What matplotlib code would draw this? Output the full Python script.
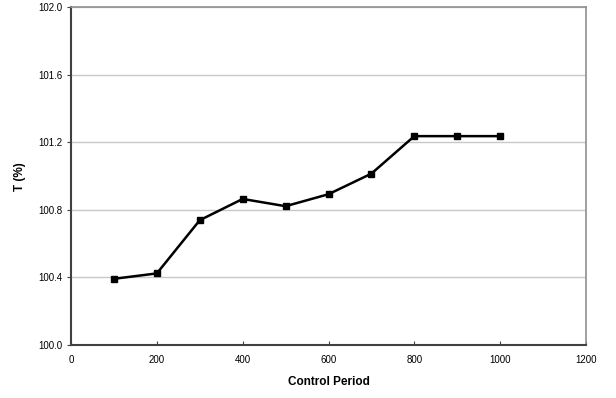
import matplotlib
matplotlib.use("Agg")
import matplotlib.pyplot as plt

x_vals = [100, 200, 300, 400, 500, 600, 700, 800, 900, 1000]
t_vals = [100.392, 100.424, 100.739, 100.865, 100.822, 100.893, 101.015, 101.237, 101.237, 101.237]
x_ticks = [0, 200, 400, 600, 800, 1000, 1200]
y_ticks = [100.0, 100.4, 100.8, 101.2, 101.6, 102.0]
x_label = "Control Period"
y_label = "T (%)"

plt.rcParams['font.family'] = ['Liberation Sans', 'DejaVu Sans']

fig = plt.figure(figsize=(6.16, 3.98), dpi=100)
ax = fig.add_axes([71/616, 1-345/398, (586-71)/616, (345-7.3)/398])

ax.plot(x_vals, t_vals, color='black', linewidth=1.8, marker='s', markersize=5, zorder=3)

ax.set_xlim(0, 1200)
ax.set_ylim(100.0, 102.0)
ax.set_xticks(x_ticks)
ax.set_yticks(y_ticks)
ax.set_yticklabels([f"{v:.1f}" for v in y_ticks])
ax.yaxis.grid(True, color='#c8c8c8', linewidth=1.0)
ax.set_axisbelow(True)

for s in ['left', 'bottom']:
    ax.spines[s].set_color('#404040')
    ax.spines[s].set_linewidth(1.5)
for s in ['top', 'right']:
    ax.spines[s].set_color('#909090')
    ax.spines[s].set_linewidth(1.2)

ax.tick_params(axis='y', labelsize=7, length=3, width=0.8, color='#404040', direction='out', pad=3)
ax.tick_params(axis='x', labelsize=7, length=3, width=0.8, color='#404040', direction='in', pad=7)
ax.set_xlabel(x_label, fontsize=8.5, fontweight='bold', labelpad=8)
ax.set_ylabel(y_label, fontsize=8.5, fontweight='bold', labelpad=9)

fig.savefig("out.png", dpi=100)
